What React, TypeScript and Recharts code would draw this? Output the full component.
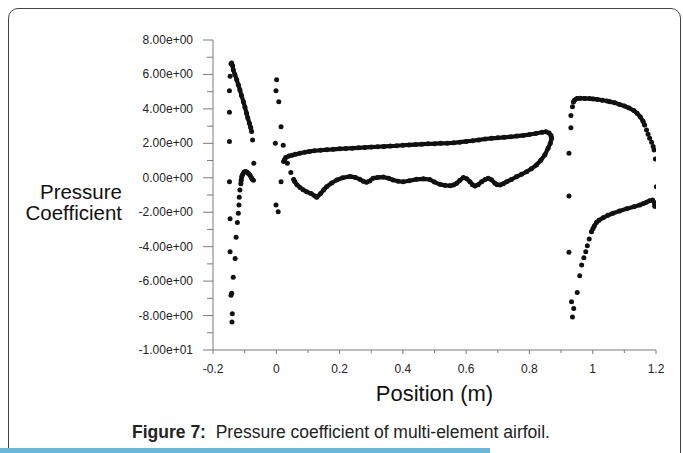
import React from 'react';
import { ScatterChart, Scatter, XAxis, YAxis } from 'recharts';

type P = { x: number; y: number };
const pts = (a: number[][]): P[] => a.map(([x, y]) => ({ x, y }));

// ---- Slat ----
const slatUpper = pts([
  [-0.143, 6.62], [-0.141, 6.66], [-0.138, 6.5], [-0.136, 6.27], [-0.131, 6.0], [-0.125, 5.69],
  [-0.12, 5.4], [-0.115, 5.1], [-0.11, 4.78], [-0.104, 4.42], [-0.099, 4.1], [-0.094, 3.75],
  [-0.09, 3.47], [-0.085, 3.17], [-0.081, 2.92], [-0.078, 2.68],
]);
const slatHook = pts([
  [-0.112, -0.35], [-0.111, -0.15], [-0.109, 0.07], [-0.106, 0.2], [-0.102, 0.32], [-0.098, 0.36],
  [-0.093, 0.33], [-0.088, 0.25], [-0.083, 0.15], [-0.079, 0.02], [-0.076, -0.08],
]);
const slatDots = pts([
  [-0.146, 5.9], [-0.148, 5.05], [-0.148, 3.81], [-0.148, 2.1], [-0.148, -0.23], [-0.146, -2.38],
  [-0.146, -4.3], [-0.075, 2.2], [-0.071, 0.84], [-0.072, -0.15],
  [-0.115, -0.71], [-0.117, -1.13], [-0.118, -1.58], [-0.12, -2.06], [-0.123, -2.59],
  [-0.127, -3.46], [-0.13, -4.68], [-0.136, -5.78], [-0.141, -6.7], [-0.143, -6.82],
  [-0.139, -7.9], [-0.14, -8.37],
]);

// ---- Main element ----
const mainUpper = pts([
  [0.026, 1.05], [0.03, 1.18], [0.04, 1.26], [0.05, 1.31], [0.06, 1.36], [0.075, 1.42], [0.09, 1.48],
  [0.105, 1.53], [0.12, 1.57], [0.14, 1.6], [0.16, 1.63], [0.18, 1.65], [0.2, 1.68], [0.22, 1.7],
  [0.24, 1.72], [0.26, 1.74], [0.28, 1.76], [0.3, 1.78], [0.32, 1.8], [0.34, 1.82], [0.36, 1.84],
  [0.38, 1.86], [0.4, 1.89], [0.42, 1.91], [0.44, 1.93], [0.46, 1.95], [0.48, 1.97], [0.5, 1.98],
  [0.52, 2.0], [0.54, 2.01], [0.56, 2.03], [0.58, 2.07], [0.6, 2.11], [0.62, 2.15], [0.64, 2.2],
  [0.66, 2.25], [0.68, 2.29], [0.7, 2.32], [0.72, 2.35], [0.74, 2.38], [0.76, 2.42], [0.78, 2.46],
  [0.8, 2.51], [0.82, 2.57], [0.84, 2.64], [0.852, 2.67], [0.862, 2.6], [0.868, 2.45], [0.87, 2.3],
]);
const mainLower = pts([
  [0.87, 2.3], [0.866, 2.0], [0.859, 1.72], [0.849, 1.33], [0.836, 1.02], [0.822, 0.74], [0.806, 0.52],
  [0.791, 0.35], [0.775, 0.2], [0.759, 0.06], [0.743, -0.1], [0.728, -0.23], [0.717, -0.35],
  [0.707, -0.42], [0.698, -0.4], [0.691, -0.32], [0.68, -0.12], [0.67, -0.03], [0.66, -0.1],
  [0.649, -0.23], [0.638, -0.4], [0.628, -0.48], [0.62, -0.4], [0.612, -0.23], [0.602, -0.05],
  [0.591, 0.01], [0.58, -0.15], [0.57, -0.32], [0.56, -0.42], [0.549, -0.46], [0.533, -0.44],
  [0.517, -0.38], [0.5, -0.25], [0.485, -0.1], [0.465, -0.06], [0.443, -0.09], [0.42, -0.17],
  [0.401, -0.23], [0.385, -0.2], [0.369, -0.13], [0.355, -0.03], [0.338, 0.04], [0.32, 0.02],
  [0.306, -0.03], [0.295, -0.18], [0.285, -0.26], [0.275, -0.2], [0.264, -0.09], [0.25, 0.02],
  [0.233, 0.08], [0.21, 0.0], [0.191, -0.13], [0.175, -0.3], [0.159, -0.52], [0.15, -0.7],
  [0.14, -0.92], [0.128, -1.13], [0.122, -1.06], [0.11, -0.92], [0.096, -0.81], [0.085, -0.7],
  [0.075, -0.56], [0.065, -0.4], [0.058, -0.22], [0.055, -0.1],
]);
const mainDots = pts([
  [0.001, 5.69], [-0.001, 5.06], [0.008, 4.42], [0.015, 2.97], [-0.003, 2.01], [0.022, 1.89],
  [0.023, 0.94], [0.035, 0.84], [0.046, 0.3], [0.015, -0.23], [-0.001, -1.58], [0.006, -1.97],
]);

// ---- Flap ----
const flapUpper = pts([
  [0.939, 4.4], [0.943, 4.52], [0.95, 4.6], [0.959, 4.62], [0.975, 4.61], [0.99, 4.6], [1.001, 4.58],
  [1.015, 4.55], [1.03, 4.5], [1.045, 4.46], [1.054, 4.42], [1.07, 4.35], [1.085, 4.26], [1.1, 4.17],
  [1.115, 4.05], [1.13, 3.9], [1.14, 3.75], [1.15, 3.55], [1.159, 3.28], [1.164, 3.06],
]);
const flapLower = pts([
  [1.196, -1.66], [1.195, -1.45], [1.189, -1.29], [1.18, -1.33], [1.17, -1.42], [1.16, -1.5],
  [1.149, -1.58], [1.13, -1.68], [1.107, -1.8], [1.085, -1.93], [1.064, -2.06], [1.048, -2.18],
  [1.033, -2.32], [1.02, -2.46], [1.012, -2.59], [1.005, -2.8], [1.001, -2.94], [0.996, -3.13],
]);
const flapDots = pts([
  [0.936, 4.13], [0.931, 3.61], [0.931, 2.91], [0.925, 1.42], [0.925, -1.06], [0.925, -4.33],
  [1.17, 2.78], [1.175, 2.53], [1.18, 2.3], [1.186, 2.06], [1.191, 1.81], [1.194, 1.62],
  [1.198, 1.09], [1.201, -0.52],
  [0.989, -3.56], [0.983, -3.95], [0.978, -4.3], [0.972, -4.64], [0.965, -5.07], [0.959, -5.69],
  [0.951, -6.66], [0.933, -7.2], [0.94, -7.59], [0.936, -8.08],
]);

// ---- Axes ----
const xTicks = [-0.2, -0.1, 0, 0.1, 0.2, 0.3, 0.4, 0.5, 0.6, 0.7, 0.8, 0.9, 1, 1.1, 1.2];
const xTickLabels = ['-0.2', '', '0', '', '0.2', '', '0.4', '', '0.6', '', '0.8', '', '1', '', '1.2'];
const yTicks = [-10, -9, -8, -7, -6, -5, -4, -3, -2, -1, 0, 1, 2, 3, 4, 5, 6, 7, 8];
const yTickLabels = [
  '-1.00e+01', '', '-8.00e+00', '', '-6.00e+00', '', '-4.00e+00', '', '-2.00e+00', '',
  '0.00e+00', '', '2.00e+00', '', '4.00e+00', '', '6.00e+00', '', '8.00e+00',
];

const FONT = '"Liberation Sans", Arial, sans-serif';
const AXIS = '#7a7a7a';
const INK = '#111';

const findIdx = (arr: number[], v: number) => arr.findIndex((t) => Math.abs(t - v) < 1e-9);

const XTick = (props: any) => {
  const { x, y, payload } = props;
  const i = findIdx(xTicks, payload.value);
  const label = i >= 0 ? xTickLabels[i] : '';
  const major = label !== '';
  return (
    <g>
      <line x1={x} x2={x} y1={y} y2={y + (major ? 4 : 3)} stroke={AXIS} />
      {major && (
        <text x={x} y={y + 23} textAnchor="middle" fontSize={12} fill="#222" fontFamily={FONT}>
          {label}
        </text>
      )}
    </g>
  );
};

const YTick = (props: any) => {
  const { x, y, payload } = props;
  const i = findIdx(yTicks, payload.value);
  const label = i >= 0 ? yTickLabels[i] : '';
  const major = label !== '';
  return (
    <g>
      <line x1={x - (major ? 10 : 6)} x2={x} y1={y} y2={y} stroke={AXIS} />
      {major && (
        <text x={x - 20} y={y + 4} textAnchor="end" fontSize={12} fill="#222" fontFamily={FONT}>
          {label}
        </text>
      )}
    </g>
  );
};

const Dot = (p: any) => <circle cx={p.cx} cy={p.cy} r={2.5} fill={INK} />;
const lineStyle = { stroke: INK, strokeWidth: 4.2, strokeLinecap: 'round', strokeLinejoin: 'round' } as any;

export default function App() {
  return (
    <div
      style={{
        position: 'fixed', left: 0, top: 0, width: 683, height: 453, overflow: 'hidden',
        background: '#fff', fontFamily: FONT,
      }}
    >
      <div
        style={{
          position: 'absolute', left: 8, top: 8, width: 673, height: 520,
          border: '1px solid #444', borderRadius: 10, boxSizing: 'border-box',
        }}
      />
      <div style={{ position: 'absolute', left: 0, top: 0 }}>
        <ScatterChart width={683} height={453} margin={{ top: 40, right: 27, bottom: 73, left: 153 }}>
          <XAxis
            type="number" dataKey="x" domain={[-0.2, 1.2]} ticks={xTicks} interval={0}
            allowDataOverflow height={30} axisLine={{ stroke: AXIS }} tickLine={false}
            tickSize={0} tickMargin={0} tick={<XTick />}
          />
          <YAxis
            type="number" dataKey="y" domain={[-10, 8]} ticks={yTicks} interval={0}
            allowDataOverflow width={60} axisLine={{ stroke: AXIS }} tickLine={false}
            tickSize={0} tickMargin={0} tick={<YTick />}
          />
          <Scatter data={slatUpper} fill={INK} line={lineStyle} shape={Dot} isAnimationActive={false} />
          <Scatter data={slatHook} fill={INK} line={lineStyle} shape={Dot} isAnimationActive={false} />
          <Scatter data={slatDots} fill={INK} shape={Dot} isAnimationActive={false} />
          <Scatter data={mainUpper} fill={INK} line={lineStyle} shape={Dot} isAnimationActive={false} />
          <Scatter data={mainLower} fill={INK} line={lineStyle} shape={Dot} isAnimationActive={false} />
          <Scatter data={mainDots} fill={INK} shape={Dot} isAnimationActive={false} />
          <Scatter data={flapUpper} fill={INK} line={lineStyle} shape={Dot} isAnimationActive={false} />
          <Scatter data={flapLower} fill={INK} line={lineStyle} shape={Dot} isAnimationActive={false} />
          <Scatter data={flapDots} fill={INK} shape={Dot} isAnimationActive={false} />
        </ScatterChart>
      </div>
      <svg
        width={683} height={453}
        style={{ position: 'absolute', left: 0, top: 0, pointerEvents: 'none' }}
      >
        <text x={122} y={199} textAnchor="end" fontSize={20.5} fill="#111" fontFamily={FONT}>Pressure</text>
        <text x={122} y={220} textAnchor="end" fontSize={20.5} fill="#111" fontFamily={FONT}>Coefficient</text>
        <text x={434.5} y={401} textAnchor="middle" fontSize={22} fill="#111" fontFamily={FONT}>Position (m)</text>
        <text x={341} y={438} textAnchor="middle" fontSize={17.5} fill="#222" fontFamily={FONT}>
          <tspan fontWeight="bold">Figure 7:</tspan>
          <tspan>{'\u00a0 Pressure coefficient of multi-element airfoil.'}</tspan>
        </text>
      </svg>
      <div style={{ position: 'absolute', left: 0, top: 448, width: 490, height: 5, background: '#6cb6d8' }} />
    </div>
  );
}
